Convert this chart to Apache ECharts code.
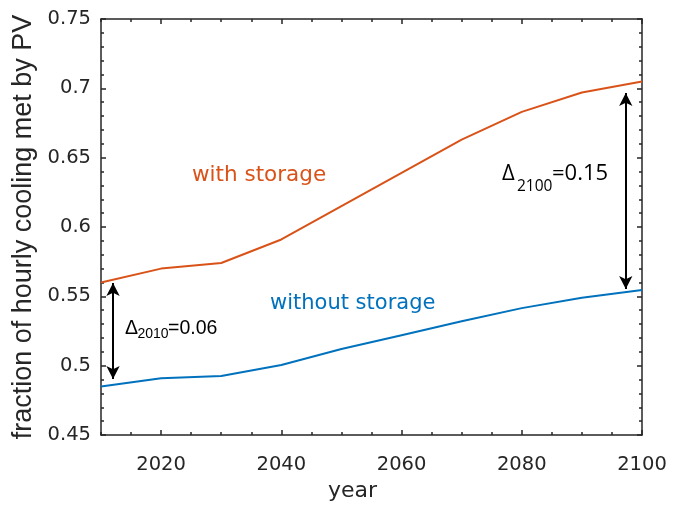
<!DOCTYPE html>
<html>
<head>
<meta charset="utf-8">
<script src="https://cdn.jsdelivr.net/npm/echarts@6/dist/echarts.min.js"></script>
<style>html,body{margin:0;padding:0;background:#fff;}#c{width:673px;height:508px;}</style>
</head>
<body>
<div id="c"></div>
<script>
var years = [2010, 2020, 2030, 2040, 2050, 2060, 2070, 2080, 2090, 2100];
var withStorage = [0.560, 0.570, 0.574, 0.591, 0.615, 0.639, 0.663, 0.683, 0.697, 0.705];
var withoutStorage = [0.485, 0.491, 0.4925, 0.5005, 0.512, 0.522, 0.532, 0.5415, 0.549, 0.5545];
var xTickLabels = [2020, 2040, 2060, 2080, 2100];
var yTickLabels = [0.45, 0.5, 0.55, 0.6, 0.65, 0.7, 0.75];
var arrow2010 = [[2012, 0.5596], [2012, 0.4904]];
var arrow2100 = [[2097.3, 0.6966], [2097.3, 0.5553]];

var AX = '#262626';
var ORANGE = '#D95319';
var BLUE = '#0072BD';
var F = 'DejaVu Sans';

function xAx(pos, major, labels, name) {
  return {
    type: 'value', position: pos, min: 2010, max: 2100, interval: 5,
    name: name || '', nameLocation: 'middle', nameGap: 33,
    nameTextStyle: {color: AX, fontFamily: F, fontSize: 22, padding: [0, 38, 0, 0]},
    axisLine: {show: !major, onZero: false, lineStyle: {color: AX, width: 1.5}},
    axisTick: major ? {show: true, inside: true, length: 5, customValues: xTickLabels, lineStyle: {color: AX, width: 1.5}}
                    : {show: true, inside: true, length: 3, lineStyle: {color: AX, width: 1.5}},
    axisLabel: labels ? {show: true, customValues: xTickLabels, margin: 20, color: AX, fontFamily: F, fontSize: 19.5,
      formatter: function (v) { return String(Math.round(v)); }} : {show: false},
    splitLine: {show: false}
  };
}
function yAx(pos, labels, name) {
  return {
    type: 'value', position: pos, min: 0.45, max: 0.75, interval: 0.05,
    name: name || '', nameLocation: 'middle', nameGap: 62,
    nameTextStyle: {color: AX, fontFamily: 'Liberation Sans', fontSize: 27},
    axisLine: {show: true, onZero: false, lineStyle: {color: AX, width: 1.5}},
    axisTick: {show: true, inside: true, length: 5, lineStyle: {color: AX, width: 1.5}},
    minorTick: {show: true, splitNumber: 5, length: 3, lineStyle: {color: AX, width: 1.5}},
    axisLabel: labels ? {show: true, margin: 10, color: AX, fontFamily: F, fontSize: 19.5,
      formatter: function (v) { return String(+v.toFixed(2)); }} : {show: false},
    splitLine: {show: false}
  };
}

function pairs(ys) { return years.map(function (y, i) { return [y, ys[i]]; }); }
function arrowLine(a) {
  return [{coord: a[0]}, {coord: a[1]}];
}

var chart = echarts.init(document.getElementById('c'), null, {renderer: 'canvas'});
chart.setOption({
  animation: false,
  backgroundColor: '#fff',
  grid: {left: 101, right: 31, top: 19, bottom: 73, containLabel: false, outerBoundsMode: 'none'},
  xAxis: [xAx('bottom', false, true, 'year'), xAx('bottom', true, false), xAx('top', false, false), xAx('top', true, false)],
  yAxis: [yAx('left', true, 'fraction of hourly cooling met by PV'), yAx('right', false)],
  series: [
    {type: 'line', name: 'with storage', data: pairs(withStorage), xAxisIndex: 0, yAxisIndex: 0,
     symbol: 'none', lineStyle: {color: ORANGE, width: 2}, itemStyle: {color: ORANGE},
     markLine: {silent: true, symbol: ['arrow', 'arrow'], symbolSize: [10, 13], label: {show: false},
       lineStyle: {color: '#000', width: 2, type: 'solid'}, data: [arrowLine(arrow2010), arrowLine(arrow2100)]}},
    {type: 'line', name: 'without storage', data: pairs(withoutStorage), xAxisIndex: 0, yAxisIndex: 0,
     symbol: 'none', lineStyle: {color: BLUE, width: 2}, itemStyle: {color: BLUE}}
  ],
  graphic: [
    {type: 'text', left: 192, top: 164, style: {text: 'with storage', fill: ORANGE, font: '21.5px "DejaVu Sans"'}},
    {type: 'text', left: 270, top: 293, style: {text: 'without storage', fill: BLUE, font: '21px "DejaVu Sans"'}},
    {type: 'group', left: 125, top: 319, children: [
      {type: 'text', x: 0, y: 0, style: {text: 'Δ', fill: '#000', font: '19.5px "Liberation Sans"'}},
      {type: 'text', x: 12.5, y: 8.5, style: {text: '2010', fill: '#000', font: '14px "Liberation Sans"'}},
      {type: 'text', x: 43, y: 0, style: {text: '=0.06', fill: '#000', font: '19.5px "Liberation Sans"'}}
    ]},
    {type: 'group', left: 502, top: 163, children: [
      {type: 'text', x: 0, y: 0, style: {text: 'Δ', fill: '#000', font: '22px "Open Sans"'}},
      {type: 'text', x: 15, y: 16, style: {text: '2100', fill: '#000', font: '15.5px "Open Sans"'}},
      {type: 'text', x: 50, y: 0, style: {text: '=0.15', fill: '#000', font: '22px "Open Sans"'}}
    ]}
  ]
});
</script>
</body>
</html>
